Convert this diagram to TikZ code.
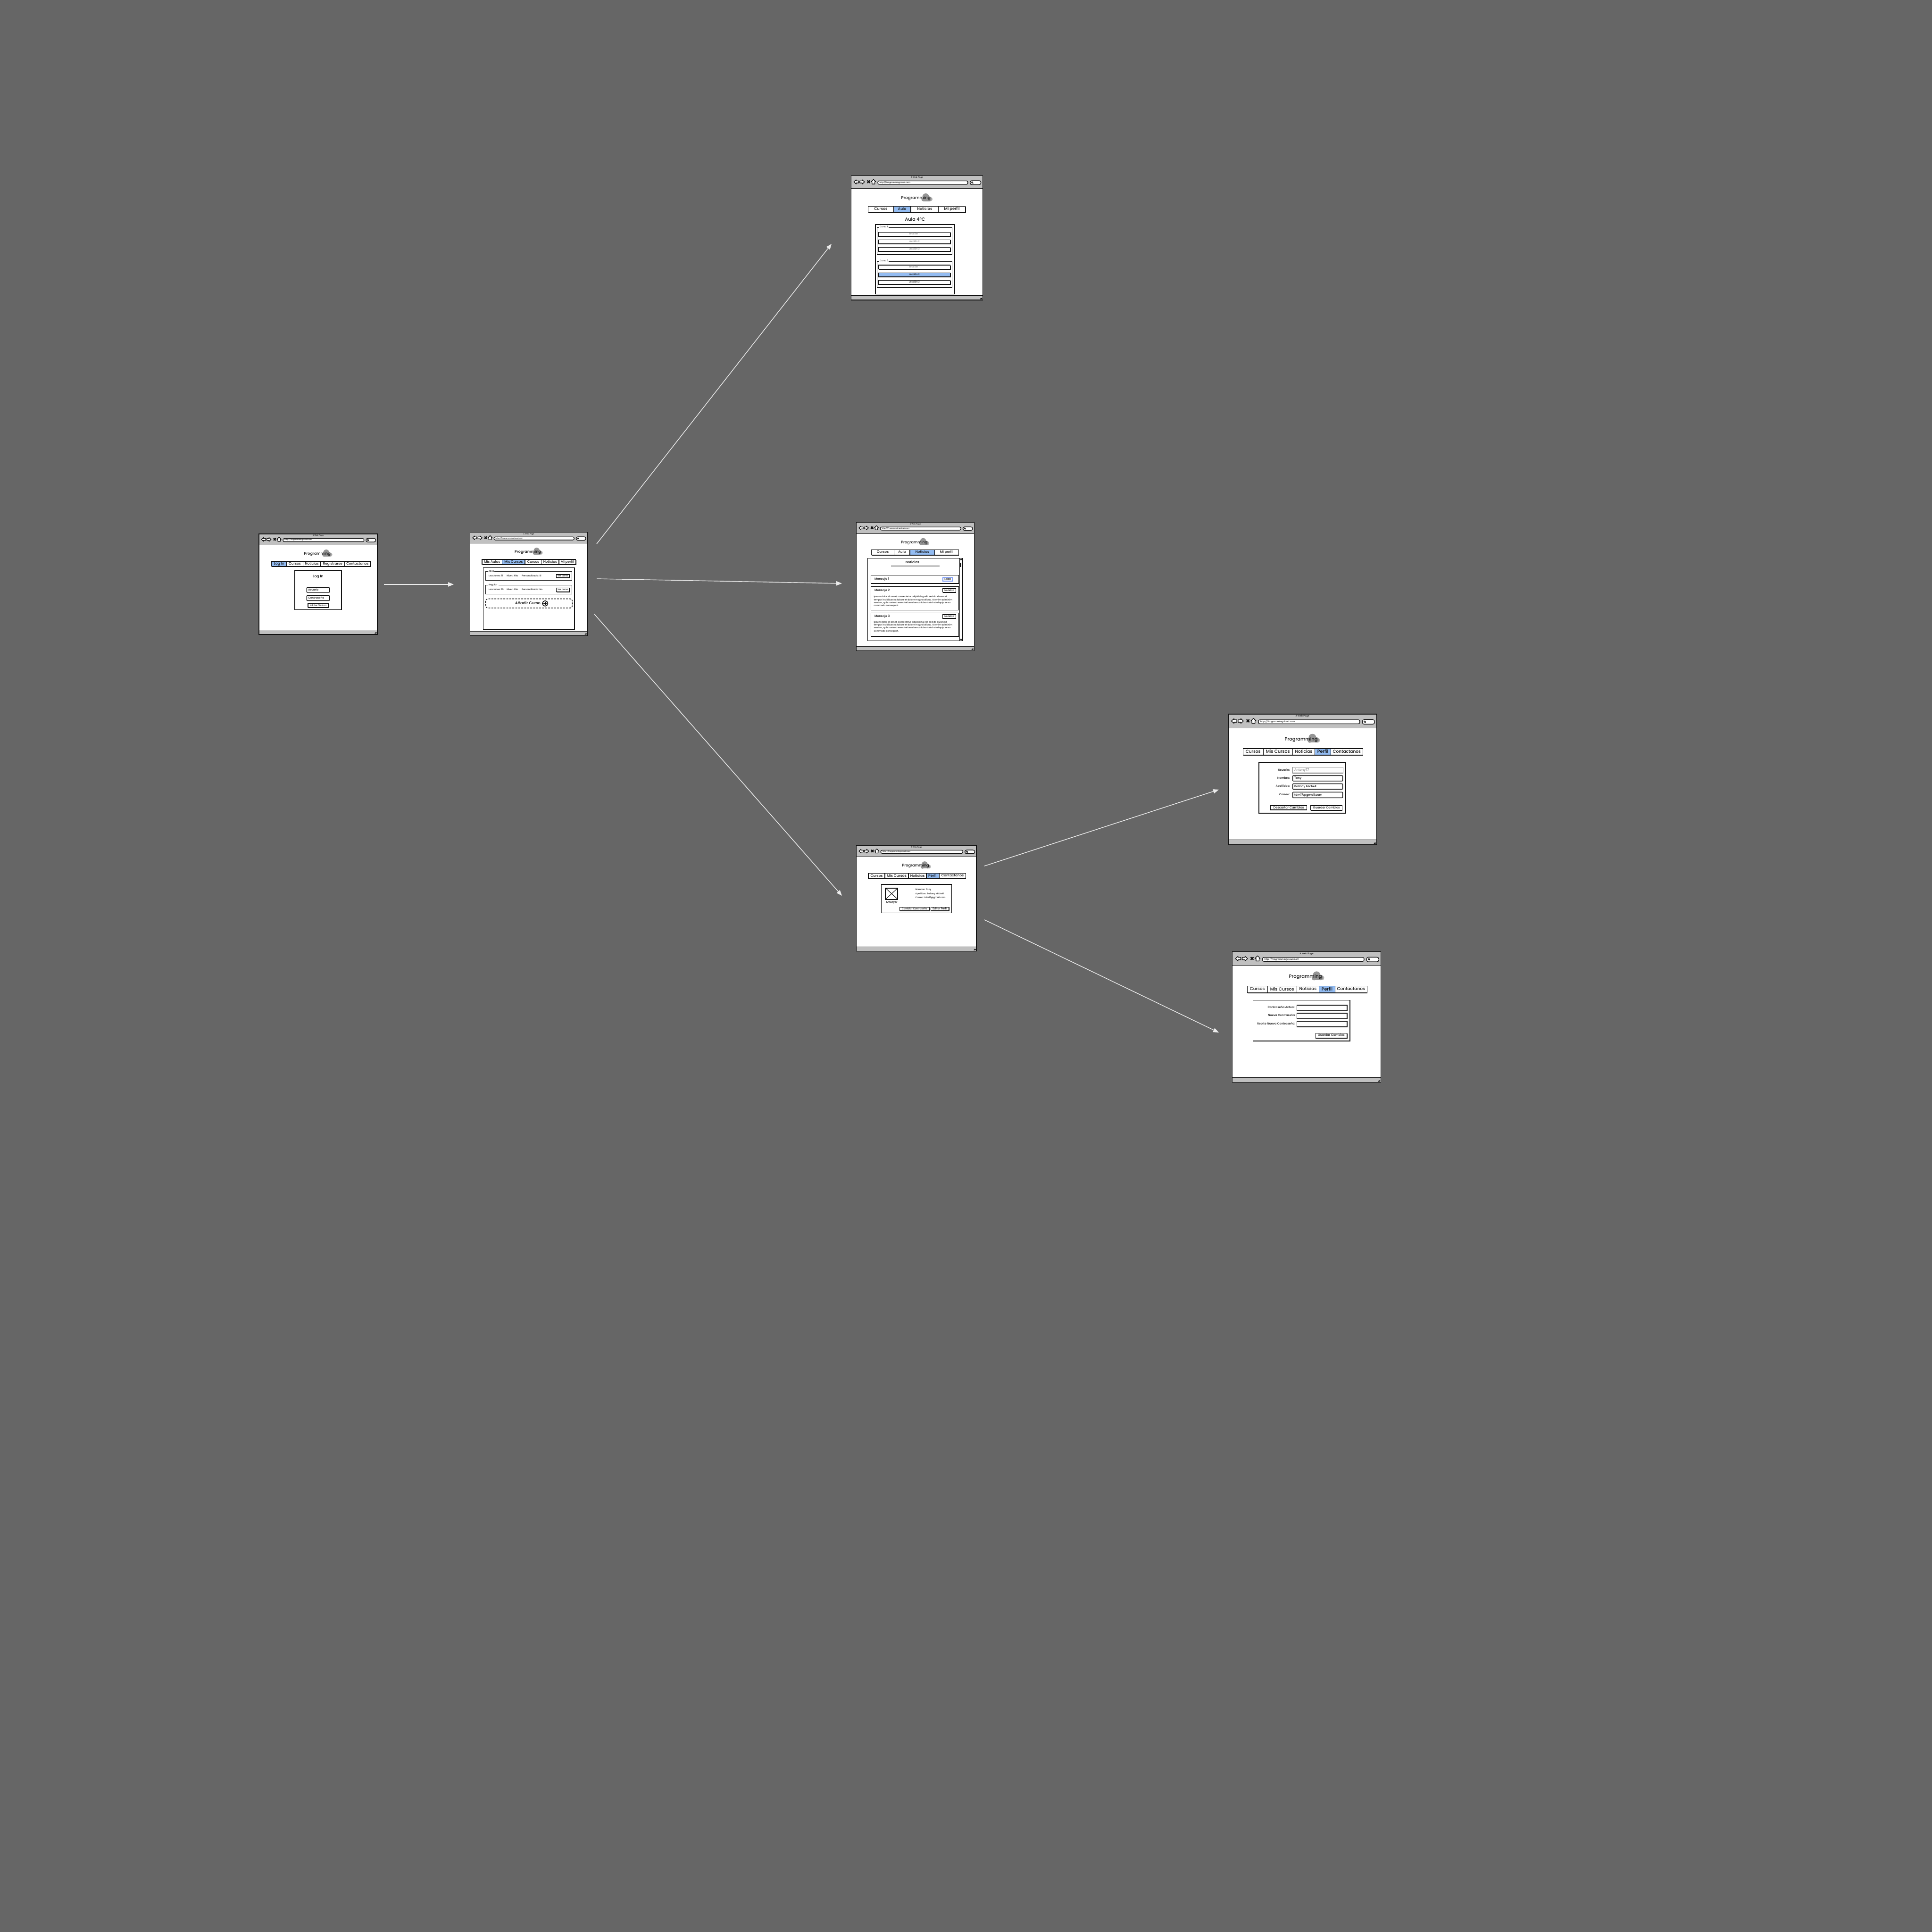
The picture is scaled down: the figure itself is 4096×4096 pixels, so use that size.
\documentclass[tikz,border=0pt]{standalone}
\usepackage{fontspec}
\setmainfont{Poppins}[UprightFont=* Medium,BoldFont=* Bold]
\usetikzlibrary{arrows.meta}
\definecolor{bg}{HTML}{666666}
\definecolor{tb}{HTML}{C0C0C0}
\definecolor{sel}{HTML}{93BCF2}
\definecolor{ink}{HTML}{111111}
\definecolor{cloudc}{HTML}{959595}
\newcount\nn
\newcommand\fsz[1]{\fontsize{\fpeval{#1*0.0948}pt}{\fpeval{#1*0.12}pt}\selectfont}
% text: anchor, x, y, size, colour, text
\newcommand\T[6][base]{\global\advance\nn by 1 \node[anchor=#1,inner sep=0pt,text=#5,font=\fsz{#4}] (n\the\nn) at (#2,{#3+0.27*#4}) {#6};}
\tikzset{
  ln/.style={draw=ink,line width=0.38pt},
  thin ln/.style={draw=ink,line width=0.3pt},
  arrowline/.style={draw=white!92!black,line width=0.4pt,-{Triangle[length=3.4pt,width=2.6pt]}},
}
% window: X0 Y0 X1 Y1 toolbar-bottom status-top (zoom units), title
\newcommand\win[7]{%
  \pgfmathsetmacro\ws{(#3-#1)/753}
  \fill[white] (#1,#2) rectangle (#3,#4);
  \fill[tb] (#1,#2) rectangle (#3,#5);
  \fill[tb] (#1,#6) rectangle (#3,#4);
  \draw[ln] (#1,#5) -- (#3,#5);
  \draw[ln] (#1,#6) -- (#3,#6);
  \draw[ln] (#1,#2) rectangle (#3,#4);
  \begin{scope}[shift={(#1,#2)},xscale=\ws,yscale=\ws]
    \draw[ln,fill=white,line join=round] (16,35)--(29,23)--(29,29)--(43,29)--(43,41)--(29,41)--(29,47)--cycle;
    \draw[ln,fill=white,line join=round] (77,35)--(64,23)--(64,29)--(50,29)--(50,41)--(64,41)--(64,47)--cycle;
    \draw[ink,line width=0.65pt] (93,27)--(107,41) (107,27)--(93,41);
    \draw[ln,fill=white,line join=round] (128,21)--(141,34)--(136,34)--(136,47)--(120,47)--(120,34)--(115,34)--cycle;
    \draw[ln,fill=white,rounded corners=0.8pt] (153,29) rectangle (668,49);
    \T[base west]{161}{38}{\fpeval{11.2*\ws}}{ink}{http://Programmingcloud.com}
    \draw[ln,fill=white,rounded corners=1.05pt] (681,28) rectangle (743,51);
    \draw[ink,line width=0.3pt] (693,38) circle (4);
    \draw[ink,line width=0.3pt] (696,41) -- (699,44);
  \end{scope}
  \T{\fpeval{(#1+#3)/2}}{\fpeval{#2+11*\ws}}{\fpeval{11.5*\ws}}{ink}{#7}
  \draw[ink,line width=0.35pt] (#3-16,#4-5) -- (#3-9,#4-13) (#3-10,#4-5) -- (#3-4,#4-12);
}
% logo: cx cy width-of-text
\newcommand\logo[3]{%
  \pgfmathsetmacro\ls{#3/167}
  \begin{scope}[shift={(#1,#2)},xscale=\ls,yscale=\ls]
    \fill[cloudc!70!white] (84,5) circle (12);
    \fill[cloudc] (57,-9) circle (19) (44,6) circle (12) (76,3) circle (14);
    \fill[cloudc] (44,4) rectangle (80,17);
  \end{scope}
  \T{#1}{#2}{\fpeval{24*\ls}}{ink}{Programming}
}
% tab bar
\newcommand\tabbar[4]{\fill[ink] (#1+2,#2+3) rectangle (#3+3,#4+4); \fill[white] (#1,#2) rectangle (#3,#4);}
% one tab: x0 x1 y0 y1 size fill text
\newcommand\tabc[7]{\draw[thin ln,fill=#6] (#1,#3) rectangle (#2,#4); \T{\fpeval{(#1+#2)/2}}{\fpeval{(#3+#4)/2}}{#5}{ink}{#7}}
% button: x0 y0 x1 y1 size fill textcolor text
\newcommand\btn[8]{\fill[ink] (#1+1,#2+2) rectangle (#3+3,#4+3.5); \draw[thin ln,fill=#6] (#1,#2) rectangle (#3,#4); \T{\fpeval{(#1+#3)/2}}{\fpeval{(#2+#4)/2}}{#5}{#7}{#8}}
% input: x0 y0 x1 y1 size text-left text
\newcommand\inpt[7]{\draw[ln,fill=white,rounded corners=0.3pt] (#1,#2) rectangle (#3,#4); \T[base west]{#6}{\fpeval{(#2+#4)/2}}{#5}{ink}{#7}}
% fieldset: x0 y0 x1 y1 label labelx labelend
\newcommand\fset[7]{\draw[ln] (#1,#2) rectangle (#3,#4); \fill[white] (#6-4,#2-3) rectangle (#7,#2+3); \T[base west]{#6}{#2-2}{14}{ink}{#5}}
\newcommand\boxr[4]{\draw[ln,fill=white] (#1,#2) rectangle (#3,#4);}
\newenvironment{zoomed}[2]{\begin{scope}[shift={(#1,#2)},x=0.01cm/3,y=-0.01cm/3]}{\end{scope}}
\begin{document}
\begin{tikzpicture}[x=0.01cm,y=-0.01cm]
\useasboundingbox (0,0) rectangle (4096,4096);
\fill[bg] (0,0) rectangle (4096,4096);
% ---------- window 1
\begin{zoomed}{530}{1110}
\win{57}{66}{810}{705}{137}{682}{A Web Page}
\logo{428}{193}{167}
\tabbar{137}{240}{765}{272}
\tabc{137}{233}{240}{272}{22.5}{sel}{Log In}
\tabc{233}{337}{240}{272}{22}{white}{Cursos}
\tabc{337}{450}{240}{272}{21.5}{white}{Noticias}
\tabc{450}{602}{240}{272}{21.5}{white}{Registrarse}
\tabc{602}{765}{240}{272}{21.5}{white}{Contactanos}
\boxr{285}{299}{582}{548}
\T{433}{337}{23}{ink}{Log In}
\inpt{361}{407}{506}{438}{17}{368}{Usuario}
\inpt{361}{458}{506}{490}{17}{368}{Contraseña}
\btn{369}{510}{499}{533}{16}{white}{ink}{Iniciar Sesion}
\end{zoomed}
% ---------- window 2
\begin{zoomed}{980}{1110}
\win{50}{56}{796}{712}{124}{686}{A Web Page}
\logo{417}{181}{165}
\tabbar{126}{228}{722}{260}
\tabc{126}{254}{228}{260}{21.5}{white}{Mis Aulas}
\tabc{254}{399}{228}{260}{21.5}{sel}{Mis Cursos}
\tabc{399}{503}{228}{260}{21.5}{white}{Cursos}
\tabc{503}{615}{228}{260}{21.5}{white}{Noticias}
\tabc{615}{722}{228}{260}{21.5}{white}{Mi perfil}
\boxr{133}{280}{714}{675}
\fset{149}{305}{698}{362}{Java}{165}{204}
\T[base west]{166}{334}{14.5}{ink}{Lecciones: 11}
\T[base west]{281}{334}{14.5}{ink}{Nivel: Alto}
\T[base west]{377}{334}{14.5}{ink}{Personalizado: Si}
\btn{598}{324}{681}{345}{14}{white}{ink}{Ver curso}
\fset{149}{392}{698}{449}{Angular}{165}{231}
\T[base west]{166}{421}{14.5}{ink}{Lecciones: 10}
\T[base west]{281}{421}{14.5}{ink}{Nivel: Alto}
\T[base west]{377}{421}{14.5}{ink}{Personalizado: No}
\btn{598}{410}{681}{433}{14}{white}{ink}{Ver curso}
\draw[ink,line width=0.4pt,dash pattern=on 1.1pt off 0.7pt,rounded corners=1.2pt] (149,479) rectangle (700,537);
\T{417}{507}{24.5}{ink}{Añadir Curso}
\draw[ink,line width=0.45pt,fill=white] (527,508) circle (17);
\draw[ink,line width=0.55pt] (516,508) -- (538,508) (527,497) -- (527,519);
\end{zoomed}
% ---------- window 3
\begin{zoomed}{1780}{360}
\win{73}{38}{910}{828}{118}{798}{A Web Page}
\logo{485}{181}{185}
\tabbar{181}{232}{800}{268}
\tabc{181}{343}{232}{268}{24}{white}{Cursos}
\tabc{343}{453}{232}{268}{23}{sel}{Aula}
\tabc{453}{629}{232}{268}{23.5}{white}{Noticias}
\tabc{629}{800}{232}{268}{25}{white}{Mi perfil}
\T{480}{318}{29}{ink}{Aula 4ºC}
\boxr{228}{348}{732}{790}
\fset{238}{367}{716}{540}{Curso 1}{254}{312}
\btn{247}{397}{704}{423}{14.5}{white}{gray}{Lección 1}
\btn{246}{445}{704}{471}{14.5}{white}{gray}{Lección 2}
\btn{246}{493}{704}{519}{14.5}{white}{gray}{Lección 3}
\fset{238}{583}{716}{748}{Curso 2}{254}{312}
\btn{247}{606}{704}{632}{14.5}{white}{gray}{Lección 1}
\btn{247}{655}{704}{681}{14.5}{sel}{ink}{Lección 2}
\btn{247}{703}{704}{729}{14.5}{white}{ink}{Lección 3}
\end{zoomed}
% ---------- window 4
\begin{zoomed}{1790}{1100}
\win{77}{23}{826}{838}{95}{812}{A Web Page}
\logo{445}{150}{166}
\tabbar{172}{196}{727}{230}
\tabc{172}{317}{196}{230}{21.5}{white}{Cursos}
\tabc{317}{417}{196}{230}{21}{white}{Aula}
\tabc{417}{575}{196}{230}{21.5}{sel}{Noticias}
\tabc{575}{727}{196}{230}{21.5}{white}{Mi perfil}
\boxr{149}{250}{754}{775}
\draw[ln,fill=white] (733,250) rectangle (752,775);
\draw[ink,line width=0.7pt] (737,283) rectangle (741,302);
\draw[ink,line width=0.3pt] (735,264) -- (743,254) -- (749,264) (735,762) -- (743,772) -- (749,762);
\T{433}{279}{21.5}{ink}{Noticias}
\draw[gray,line width=0.35pt] (298,300) -- (606,300);
\boxr{170}{359}{728}{411}
\T[base west]{190}{382}{19}{ink}{Mensaje 1}
\draw[draw=sel!80!blue,line width=0.35pt,fill=white] (627,373) rectangle (690,396);
\T{658}{384}{16}{ink}{Leído}
\boxr{170}{431}{728}{581}
\T[base west]{190}{455}{19}{ink}{Mensaje 2}
\btn{626}{444}{709}{467}{15}{white}{ink}{No leído}
\T[base west]{186}{497}{14}{ink}{Ipsum dolor sit amet, consectetur adipisicing elit, sed do eiusmod}
\T[base west]{186}{516}{14}{ink}{tempor incididunt ut labore et dolore magna aliqua. Ut enim ad minim}
\T[base west]{186}{535}{14}{ink}{veniam, quis nostrud exercitation ullamco laboris nisi ut aliquip ex ea}
\T[base west]{186}{554}{14}{ink}{commodo consequat.}
\boxr{170}{598}{728}{747}
\T[base west]{190}{620}{19}{ink}{Mensaje 3}
\btn{626}{609}{709}{633}{15}{white}{ink}{No leído}
\T[base west]{186}{657}{14}{ink}{Ipsum dolor sit amet, consectetur adipisicing elit, sed do eiusmod}
\T[base west]{186}{676}{14}{ink}{tempor incididunt ut labore et dolore magna aliqua. Ut enim ad minim}
\T[base west]{186}{695}{14}{ink}{veniam, quis nostrud exercitation ullamco laboris nisi ut aliquip ex ea}
\T[base west]{186}{714}{14}{ink}{commodo consequat.}
\end{zoomed}
% ---------- window 5
\begin{zoomed}{1790}{1780}
\win{77}{38}{840}{709}{110}{683}{A Web Page}
\logo{453}{167}{170}
\tabbar{153}{214}{772}{248}
\tabc{153}{258}{214}{248}{22}{white}{Cursos}
\tabc{258}{408}{214}{248}{23}{white}{Mis Cursos}
\tabc{408}{522}{214}{248}{22.5}{white}{Noticias}
\tabc{522}{605}{214}{248}{24}{sel}{Perfil}
\tabc{605}{772}{214}{248}{21.5}{white}{Contactanos}
\boxr{236}{285}{682}{466}
\draw[ink,line width=0.5pt] (262,308) rectangle (340,380);
\draw[ink,line width=0.3pt] (262,308) -- (340,380) (340,308) -- (262,380);
\T{301}{398}{15}{ink}{\bfseries Antony77}
\T[base west]{450}{320}{14.2}{ink}{Nombre: Tony}
\T[base west]{450}{345}{14.2}{ink}{Apellidos: Ballony Michell}
\T[base west]{450}{370}{14.2}{ink}{Correo: tdm17@gmail.com}
\btn{353}{431}{540}{451}{15}{white}{ink}{Cambiar Contraseña}
\btn{551}{430}{666}{451}{16.5}{white}{ink}{Editar Perfil}
\end{zoomed}
% ---------- window 6
\begin{zoomed}{2590}{1500}
\win{42}{42}{985}{872}{130}{842}{A Web Page}
\logo{506}{202}{208}
\tabbar{135}{261}{898}{301}
\tabc{135}{265}{261}{301}{27}{white}{Cursos}
\tabc{265}{450}{261}{301}{28}{white}{Mis Cursos}
\tabc{450}{593}{261}{301}{27}{white}{Noticias}
\tabc{593}{694}{261}{301}{28.5}{sel}{Perfil}
\tabc{694}{898}{261}{301}{27}{white}{Contactanos}
\boxr{237}{351}{789}{672}
\T[base east]{435}{398}{18.2}{ink}{Usuario:}
\T[base east]{435}{450}{18.2}{ink}{Nombre:}
\T[base east]{435}{502}{18.2}{ink}{Apellidos:}
\T[base east]{435}{555}{18.2}{ink}{Correo:}
\draw[gray,line width=0.38pt,fill=white] (452,380) rectangle (772,417);
\T[base west]{460}{399}{20}{gray}{Antony77}
\inpt{452}{433}{770}{468}{19}{460}{Tony}
\inpt{452}{485}{770}{520}{18.7}{460}{Ballony Michell}
\inpt{452}{538}{770}{574}{18.8}{460}{tdm17@gmail.com}
\btn{311}{624}{541}{651}{19.8}{white}{ink}{Descartar Cambios}
\btn{566}{624}{766}{653}{18.7}{white}{ink}{Guardar Cambios}
\end{zoomed}
% ---------- window 7
\begin{zoomed}{2600}{2000}
\win{38}{53}{982}{884}{143}{854}{A Web Page}
\logo{503}{213}{208}
\tabbar{132}{272}{895}{313}
\tabc{132}{262}{272}{313}{27}{white}{Cursos}
\tabc{262}{447}{272}{313}{28}{white}{Mis Cursos}
\tabc{447}{590}{272}{313}{27}{white}{Noticias}
\tabc{590}{691}{272}{313}{28.5}{sel}{Perfil}
\tabc{691}{895}{272}{313}{27}{white}{Contactanos}
\boxr{169}{362}{786}{621}
\T[base east]{440}{409}{18}{ink}{Contraseña Actual:}
\T[base east]{442}{459}{18}{ink}{Nueva Contraseña:}
\T[base east]{440}{511}{18.4}{ink}{Repite Nueva Contraseña:}
\boxr{449}{393}{768}{428}
\boxr{449}{444}{768}{479}
\boxr{449}{496}{768}{531}
\btn{567}{570}{767}{601}{18.7}{white}{ink}{Guardar Cambios}
\end{zoomed}
% ---------- connectors
\coordinate (a1s) at (814,1239); \coordinate (a1e) at (962,1239);
\coordinate (a2s) at (1265,1153); \coordinate (a2e) at (1763,517);
\coordinate (a3s) at (1265,1227); \coordinate (a3e) at (1785,1237);
\coordinate (a4s) at (1260,1302); \coordinate (a4e) at (1785,1899);
\coordinate (a5s) at (2087,1836); \coordinate (a5e) at (2584,1674);
\coordinate (a6s) at (2087,1950); \coordinate (a6e) at (2584,2189);
\foreach \i in {1,...,6} \draw[arrowline] (a\i s) -- (a\i e);
\end{tikzpicture}
\end{document}
